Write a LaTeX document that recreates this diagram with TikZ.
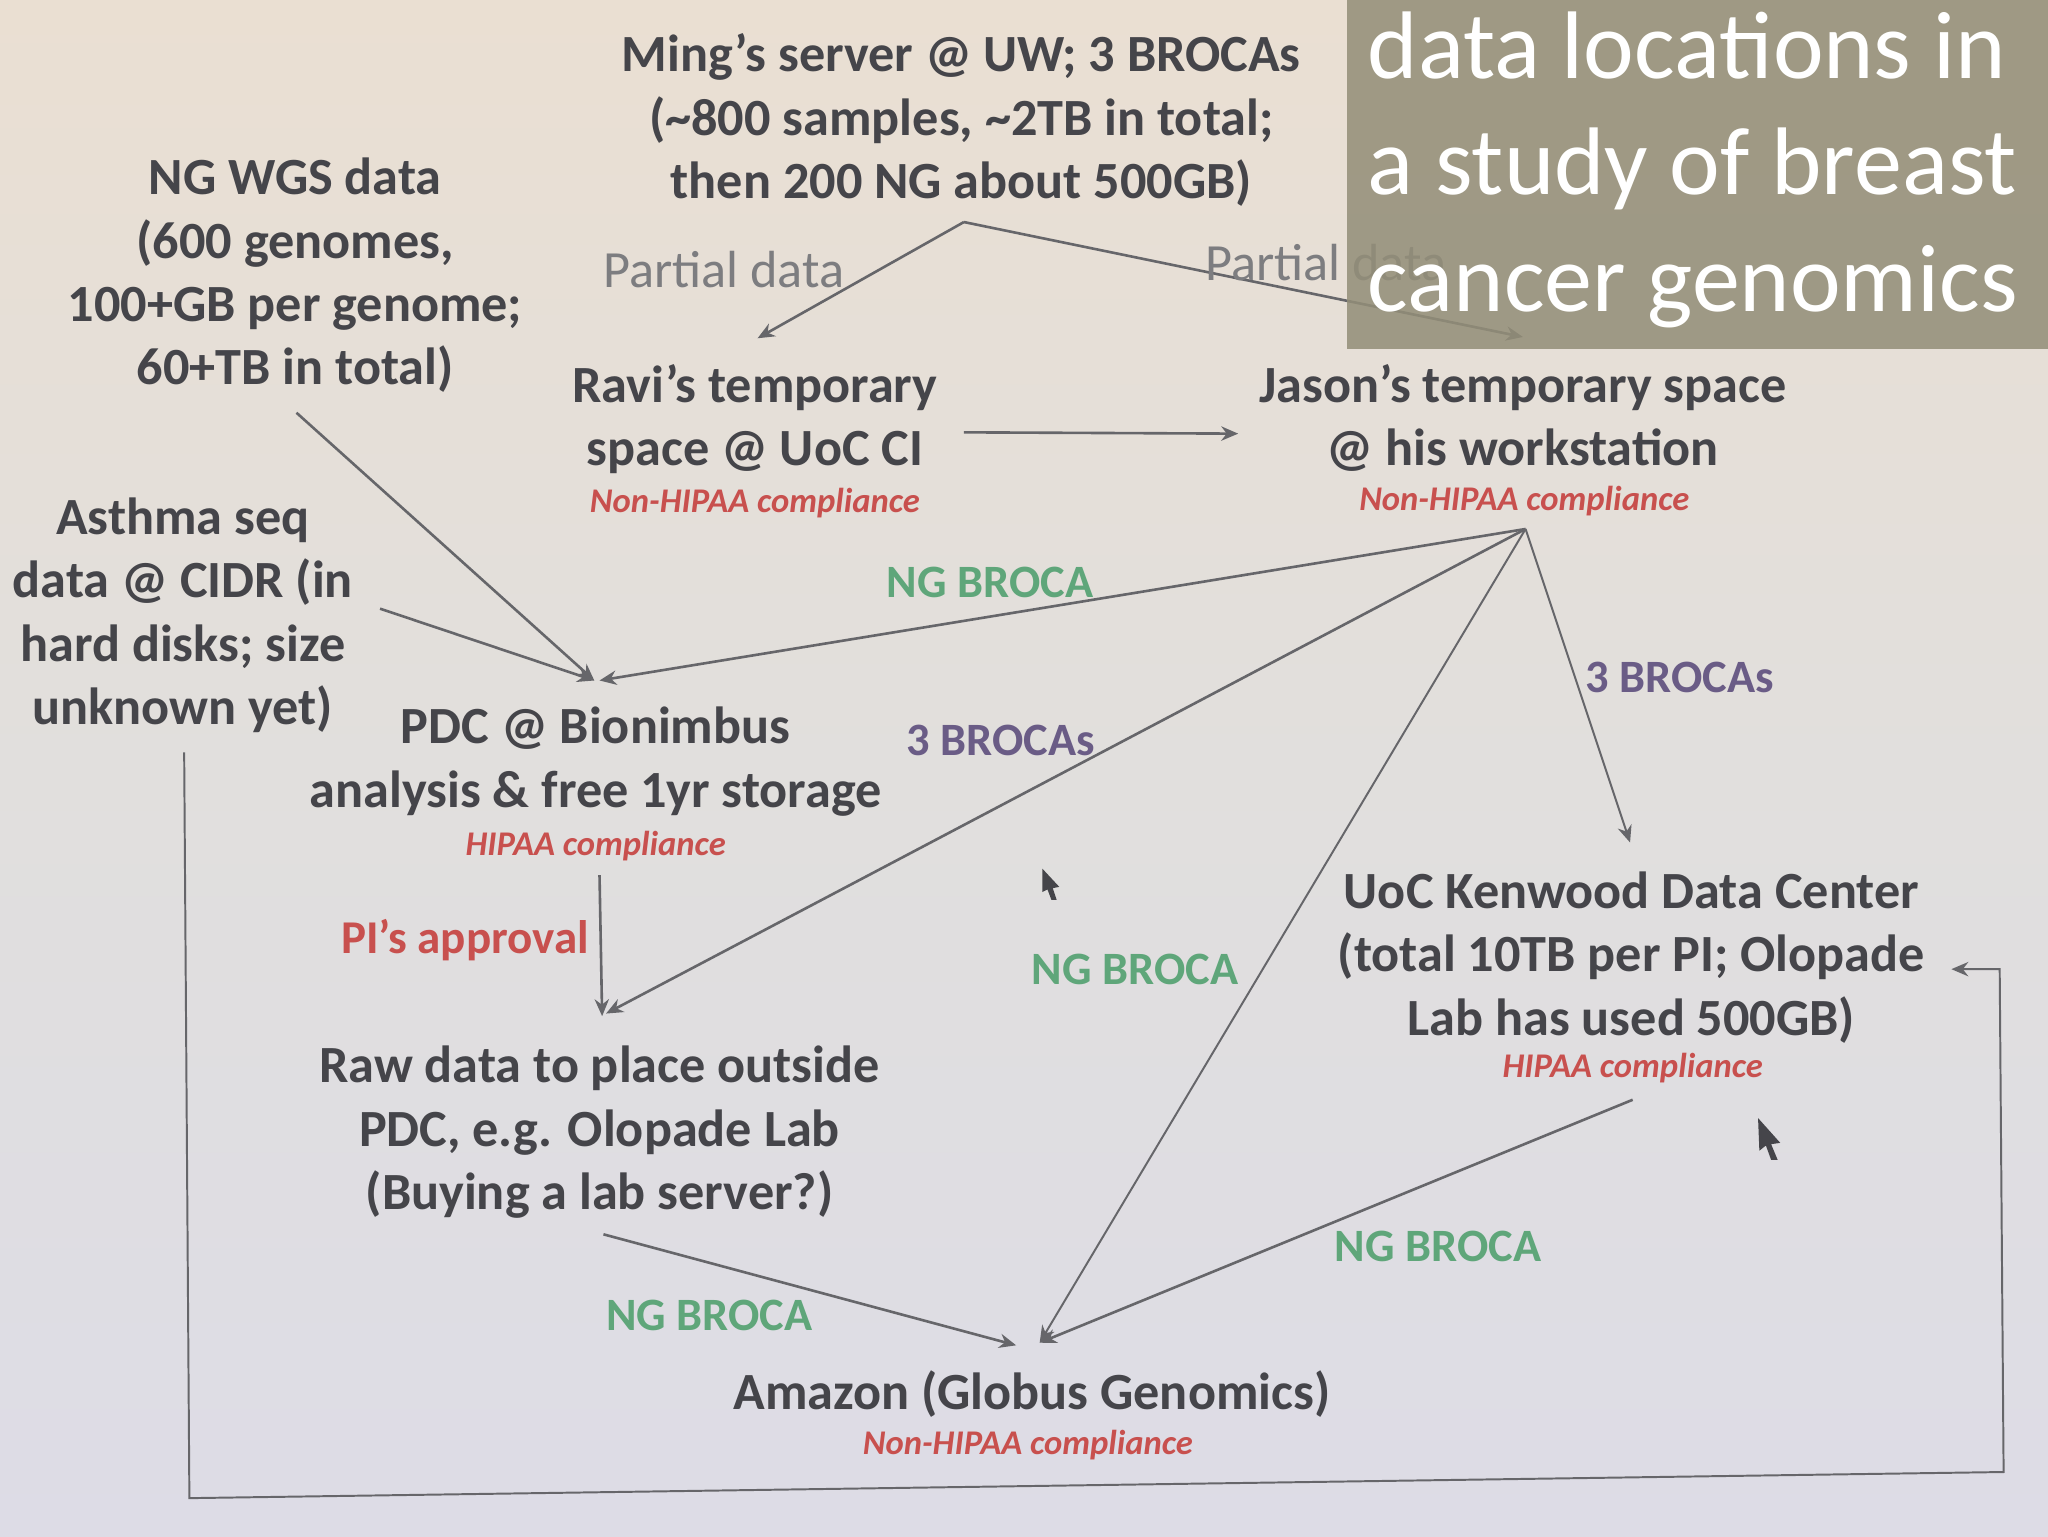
\documentclass[tikz,border=0pt]{standalone}
\usepackage{fontspec}
\setmainfont{Carlito}
\usetikzlibrary{arrows.meta}
\definecolor{bgtop}{HTML}{EADFD2}
\definecolor{bgmid}{HTML}{E1DFDD}
\definecolor{bgbot}{HTML}{DDDCE6}
\definecolor{inkc}{HTML}{45454A}
\definecolor{redc}{HTML}{C8504E}
\definecolor{greenc}{HTML}{5FA67A}
\definecolor{purplec}{HTML}{6A5C86}
\definecolor{linec}{HTML}{66666A}
\definecolor{bandc}{HTML}{938E78}
\tikzset{
  lbl/.style={align=center,text=inkc,inner sep=0pt,font=\fontsize{40}{48.5}\selectfont\bfseries},
  comp/.style={text=redc,inner sep=0pt,font=\fontsize{26.5}{28}\selectfont\bfseries\itshape},
  edgelbl/.style={inner sep=0pt,font=\fontsize{35.5}{40}\selectfont\bfseries},
  link/.style={draw=linec,line width=2pt,-{Stealth[length=13pt,width=11pt]}},
  title/.style={align=left,text=white,inner sep=0pt,font=\fontsize{73.5}{89}\selectfont},
}
\begin{document}
\begin{tikzpicture}[x=1pt,y=-1pt]
\useasboundingbox (0,0) rectangle (1568,1176);
\shade[top color=bgtop,bottom color=bgbot,middle color=bgmid] (0,0) rectangle (1568,1176);

\node[lbl] (ming) at (736,92) {Ming’s server @ UW; 3 BROCAs\\(\textasciitilde 800 samples, \textasciitilde 2TB in total;\\then 200 NG about 500GB)};
\node[lbl] (wgs) at (226,211) {NG WGS data\\(600 genomes,\\100+GB per genome;\\60+TB in total)};
\node[lbl] (ravi) at (578,321) {Ravi’s temporary\\space @ UoC CI};
\node[comp] (ravic) at (578,385) {Non-HIPAA compliance};
\node[lbl] (jason) at (1166,320) {Jason’s temporary space\\@ his workstation};
\node[comp] (jasonc) at (1167,384) {Non-HIPAA compliance};
\node[lbl] (asthma) at (140,471) {Asthma seq\\data @ CIDR (in\\hard disks; size\\unknown yet)};
\node[lbl] (pdc) at (456,583) {PDC @ Bionimbus\\analysis \& free 1yr storage};
\node[comp] (pdcc) at (456,648) {HIPAA compliance};
\node[lbl] (raw) at (459,867) {Raw data to place outside\\PDC, e.g. Olopade Lab\\(Buying a lab server?)};
\node[lbl] (uoc) at (1249,733) {UoC Kenwood Data Center\\(total 10TB per PI; Olopade\\Lab has used 500GB)};
\node[comp] (uocc) at (1250,818) {HIPAA compliance};
\node[lbl] (amazon) at (790,1067) {Amazon (Globus Genomics)};
\node[comp] (amazonc) at (787,1106) {Non-HIPAA compliance};

\coordinate (mingOut) at (738,170);
\coordinate (raviIn) at (580,259);
\coordinate (jasonIn) at (1166,258);
\coordinate (raviOut) at (738,331);
\coordinate (jasonLeft) at (948,332);
\coordinate (wgsOut) at (227,316);
\coordinate (pdcInA) at (455,521);
\coordinate (asthmaOut) at (291,466);
\coordinate (pdcInB) at (459,521);
\coordinate (jasonOut) at (1168,405);
\coordinate (rawIn) at (464,776);
\coordinate (rawInB) at (461,778);
\coordinate (pdcOut) at (459,670);
\coordinate (uocIn) at (1248,645);
\coordinate (amzInA) at (796,1028);
\coordinate (amzInB) at (778,1030);
\coordinate (rawOut) at (462,945);
\coordinate (uocOut) at (1250,842);
\coordinate (boxStart) at (141,576);
\coordinate (boxBL) at (145,1147);
\coordinate (boxBR) at (1534,1127);
\coordinate (boxTR) at (1531,742);
\coordinate (uocRight) at (1494,742);

\draw[link] (mingOut) -- (raviIn);
\draw[link] (mingOut) -- (jasonIn);
\draw[link] (raviOut) -- (jasonLeft);
\draw[link] (wgsOut) -- (pdcInA);
\draw[link] (asthmaOut) -- (pdcInA);
\draw[link] (jasonOut) -- (pdcInB);
\draw[link] (jasonOut) -- (rawIn);
\draw[link] (pdcOut) -- (rawInB);
\draw[link,line width=1.5pt] (jasonOut) -- (uocIn);
\draw[link,line width=1.5pt] (jasonOut) -- (amzInA);
\draw[link] (uocOut) -- (amzInA);
\draw[link] (rawOut) -- (amzInB);
\draw[link,line width=1.5pt] (boxStart) -- (boxBL) -- (boxBR) -- (boxTR) -- (uocRight);

\node[edgelbl,text=linec!85,font=\fontsize{40}{40}\selectfont] (pdl) at (554,206) {Partial data};
\node[edgelbl,text=linec!85,font=\fontsize{40}{40}\selectfont] (pdr) at (1015,201) {Partial data};
\node[edgelbl,text=greenc] (g1) at (758,446) {NG BROCA};
\node[edgelbl,text=purplec] (p1) at (766,567) {3 BROCAs};
\node[edgelbl,text=purplec] (p2) at (1286,519) {3 BROCAs};
\node[edgelbl,text=redc,font=\fontsize{36}{40}\selectfont\bfseries] (pi) at (356,720) {PI’s approval};
\node[edgelbl,text=greenc] (g2) at (869,742) {NG BROCA};
\node[edgelbl,text=greenc] (g3) at (1101,954) {NG BROCA};
\node[edgelbl,text=greenc] (g4) at (543,1007) {NG BROCA};

% pointer cursors
\fill[inkc] (798,665) -- (811,679) -- (806,680) -- (809,689) -- (805,689) -- (802,681) -- (798,683) -- cycle;
\fill[inkc] (1346,856) -- (1363,875) -- (1356,876) -- (1361,888) -- (1356,888) -- (1352,877) -- (1347,881) -- cycle;

% title band
\fill[fill=bandc,fill opacity=.86] (1031,0) rectangle (1568,267);
\node[title,anchor=north west] (ttl) at (1047,9) {data locations in\\a study of breast\\cancer genomics};
\end{tikzpicture}
\end{document}
